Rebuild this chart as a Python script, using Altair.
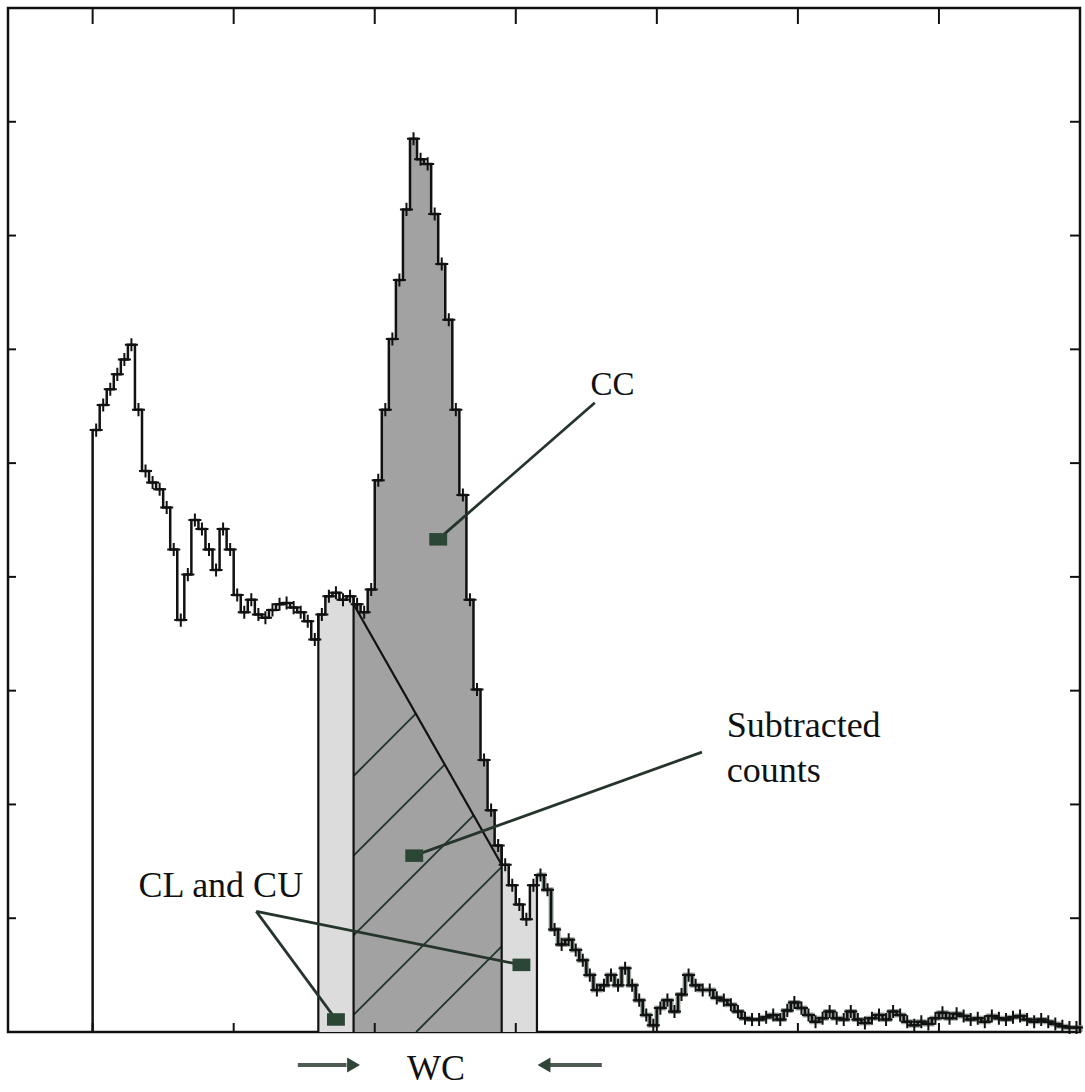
import altair as alt
import pandas as pd

# Pulse-height spectrum: counts per channel, channels 0..139
counts = [
    529, 551, 565, 578, 591, 604, 547, 493, 483, 477,
    461, 424, 362, 402, 450, 442, 424, 406, 442, 424,
    384, 369, 380, 367, 364, 371, 376, 377, 373, 369,
    361, 345, 367, 383, 386, 380, 383, 376, 369, 389,
    485, 547, 609, 661, 723, 785, 767, 763, 719, 675,
    626, 547, 472, 380, 301, 239, 195, 164, 147, 129,
    112, 99, 129, 138, 125, 90, 77, 81, 72, 63,
    50, 37, 41, 50, 41, 56, 41, 28, 15, 6,
    21, 28, 18, 33, 50, 41, 37, 37, 30, 28,
    24, 18, 12, 11, 11, 13, 15, 11, 19, 26,
    21, 15, 9, 12, 18, 12, 11, 18, 11, 8,
    12, 15, 11, 18, 15, 9, 6, 9, 7, 12,
    17, 12, 16, 14, 11, 12, 9, 14, 12, 11,
    13, 14, 11, 9, 11, 9, 7, 5, 4, 4,
]

# Integration windows (channel edges): lower background, peak, upper background
cl_window = [32, 37]
cc_window = [37, 58]
cu_window = [58, 63]

x_ticks = [0, 20, 40, 60, 80, 100, 120]
y_ticks = [100, 200, 300, 400, 500, 600, 700, 800]

x_domain = [-12, 140]
y_domain = [0, 900]

# Annotation labels
label_text = ["CC", "Subtracted", "counts", "CL and CU"]
label_x = [73.7, 89.9, 89.9, 6.5]
label_y = [560, 259, 220, 119]
label_align = ["center", "left", "left", "left"]
label_size = [33, 36, 36, 36]

# Pointer lines (from label to marker)
ptr_x = [71.2, 86.4, 23.2, 23.2]
ptr_y = [553, 246, 106, 106]
ptr_x2 = [49.0, 45.6, 60.8, 34.5]
ptr_y2 = [433, 155, 59, 11]

# Markers at the end of the pointers
marker_x = [49.0, 45.6, 60.8, 34.5]
marker_y = [433, 155, 59, 11]

# Window-width arrows and label under the axis
wc_label = "WC"
wc_x = 48.7
wc_y = -42
arrow_shaft_x = [29.1, 64.6]
arrow_shaft_x2 = [36.0, 72.2]
arrow_head_x = [37.0, 64.0]
arrow_head_shape = ["triangle-right", "triangle-left"]
arrow_y = -29

W, H = 1072, 1024
n = len(counts)

xs = alt.Scale(domain=x_domain, nice=False, zero=False)
ys = alt.Scale(domain=y_domain, nice=False, zero=False)


def X(field="x"):
    return alt.X(f"{field}:Q", scale=xs, axis=None)


def Y(field="y"):
    return alt.Y(f"{field}:Q", scale=ys, axis=None)


def band_frame(a, b):
    rows = [{"x": c, "y": counts[c]} for c in range(a, b)]
    rows.append({"x": b, "y": counts[b - 1]})
    return pd.DataFrame(rows)


# Shaded windows under the spectrum
def band_area(window, color):
    return alt.Chart(band_frame(*window)).mark_area(
        interpolate="step-after", color=color, opacity=1
    ).encode(x=X(), y=Y())


cl_area = band_area(cl_window, "#dcdcdc")
cu_area = band_area(cu_window, "#dcdcdc")
cc_area = band_area(cc_window, "#a2a2a2")

# Linear background under the peak, joining the counts at the window edges
a, b = cc_window
bg_left, bg_right = counts[a], counts[b]
bg_slope = (bg_right - bg_left) / (b - a)
bg_df = pd.DataFrame({"x": [a], "y": [bg_left], "x2": [b], "y2": [bg_right]})
bg_line = alt.Chart(bg_df).mark_rule(color="#111", strokeWidth=2.2).encode(
    x=X(), y=Y(), x2="x2:Q", y2="y2:Q"
)

# 45-degree hatching of the subtracted region
px_per_x = W / (x_domain[1] - x_domain[0])
px_per_y = H / (y_domain[1] - y_domain[0])
hatch_slope = px_per_x / px_per_y
hatch_rows = []
for k in range(5):
    off = 225 - 70 * k
    if off >= 0:
        x0, y0 = a, off
    else:
        x0, y0 = a - off / hatch_slope, 0.0
    t = min((bg_left - off) / (hatch_slope - bg_slope), b - a)
    x1, y1 = a + t, off + hatch_slope * t
    hatch_rows.append({"x": x0, "y": y0, "x2": x1, "y2": y1})
hatch = alt.Chart(pd.DataFrame(hatch_rows)).mark_rule(
    color="#20352a", strokeWidth=1.8
).encode(x=X(), y=Y(), x2="x2:Q", y2="y2:Q")

# Window edge lines
edges = [cl_window[0], cc_window[0], cc_window[1], cu_window[1]]
edge_df = pd.DataFrame({
    "x": edges,
    "y": [max(counts[e], counts[e - 1]) for e in edges],
    "y0": [0] * len(edges),
})
edge_lines = alt.Chart(edge_df).mark_rule(color="#111", strokeWidth=2.2).encode(
    x=X(), y=Y(), y2="y0:Q"
)

# Spectrum as a step line; the tail is drawn over a soft grey-green halo
spec_rows = [{"i": 0, "x": 0, "y": 0}]
for c in range(n):
    spec_rows.append({"i": c + 1, "x": c, "y": counts[c]})
spec_rows.append({"i": n + 1, "x": n, "y": counts[-1]})
spec_rows.append({"i": n + 2, "x": n, "y": 0})
spec_df = pd.DataFrame(spec_rows)
tail_halo = alt.Chart(spec_df[spec_df["x"] >= cu_window[1]]).mark_line(
    interpolate="step-after", color="#7f9184", strokeWidth=5, opacity=0.8
).encode(x=X(), y=Y(), order=alt.Order("i:Q"))
spectrum = alt.Chart(spec_df).mark_line(
    interpolate="step-after", color="#111", strokeWidth=2.5
).encode(x=X(), y=Y(), order=alt.Order("i:Q"))

# Data-point crosses
pts = pd.DataFrame({"x": [c + 0.5 for c in range(n)], "y": counts})
crosses = alt.Chart(pts).mark_point(
    shape="M-1,0L1,0M0,-1L0,1", filled=False, color="#111",
    strokeWidth=2, size=170, opacity=1
).encode(x=X(), y=Y())

# Inward ticks on all four sides of the frame
xt = pd.DataFrame({"x": x_ticks})
yt = pd.DataFrame({"y": y_ticks})
top_ticks = alt.Chart(xt).mark_rule(color="#111", strokeWidth=2).encode(
    x=X(), y=alt.value(0), y2=alt.value(16)
)
bottom_ticks = alt.Chart(xt).mark_rule(color="#111", strokeWidth=2).encode(
    x=X(), y=alt.value(H), y2=alt.value(H - 9)
)
left_ticks = alt.Chart(yt).mark_rule(color="#111", strokeWidth=2).encode(
    y=Y(), x=alt.value(0), x2=alt.value(8)
)
right_ticks = alt.Chart(yt).mark_rule(color="#111", strokeWidth=2).encode(
    y=Y(), x=alt.value(W - 10), x2=alt.value(W)
)

# Annotations
ptr_df = pd.DataFrame({"x": ptr_x, "y": ptr_y, "x2": ptr_x2, "y2": ptr_y2})
pointers = alt.Chart(ptr_df).mark_rule(color="#26352b", strokeWidth=2.8).encode(
    x=X(), y=Y(), x2="x2:Q", y2="y2:Q"
)
mk_df = pd.DataFrame({"x": marker_x, "y": marker_y})
markers = alt.Chart(mk_df).mark_point(
    shape="M-1,-0.7L1,-0.7L1,0.7L-1,0.7Z", filled=True, color="#2c4636",
    size=320, opacity=1
).encode(x=X(), y=Y())

labels = []
for t, lx, ly, al, fs in zip(label_text, label_x, label_y, label_align, label_size):
    labels.append(
        alt.Chart(pd.DataFrame({"x": [lx], "y": [ly], "t": [t]})).mark_text(
            font="Liberation Serif", fontSize=fs, align=al,
            baseline="alphabetic", color="#111"
        ).encode(x=X(), y=Y(), text="t:N")
    )

# Window-width arrows below the axis
shaft_df = pd.DataFrame({"x": arrow_shaft_x, "x2": arrow_shaft_x2,
                         "y": [arrow_y] * 2})
shafts = alt.Chart(shaft_df).mark_rule(color="#4f5a53", strokeWidth=4).encode(
    x=X(), x2="x2:Q", y=Y()
)
head_df = pd.DataFrame({"x": arrow_head_x, "y": [arrow_y] * 2,
                        "s": arrow_head_shape})
heads = alt.Chart(head_df).mark_point(
    filled=True, color="#2f4538", size=220, opacity=1
).encode(x=X(), y=Y(),
         shape=alt.Shape("s:N", scale=None, legend=None))
wc_text = alt.Chart(pd.DataFrame({"x": [wc_x], "y": [wc_y], "t": [wc_label]})).mark_text(
    font="Liberation Serif", fontSize=36, align="center",
    baseline="alphabetic", color="#111"
).encode(x=X(), y=Y(), text="t:N")

chart = alt.layer(
    cl_area, cu_area, cc_area, hatch, bg_line, edge_lines, tail_halo, spectrum,
    crosses, top_ticks, bottom_ticks, left_ticks, right_ticks,
    pointers, markers, *labels, shafts, heads, wc_text,
).properties(
    width=W, height=H,
    padding={"left": 8, "top": 8, "right": 5, "bottom": 60},
    autosize=alt.AutoSizeParams(type="none"),
    background="white",
).configure_view(stroke="#111", strokeWidth=2.5)

chart.save("out.html", embed_options={"renderer": "svg", "actions": False})
